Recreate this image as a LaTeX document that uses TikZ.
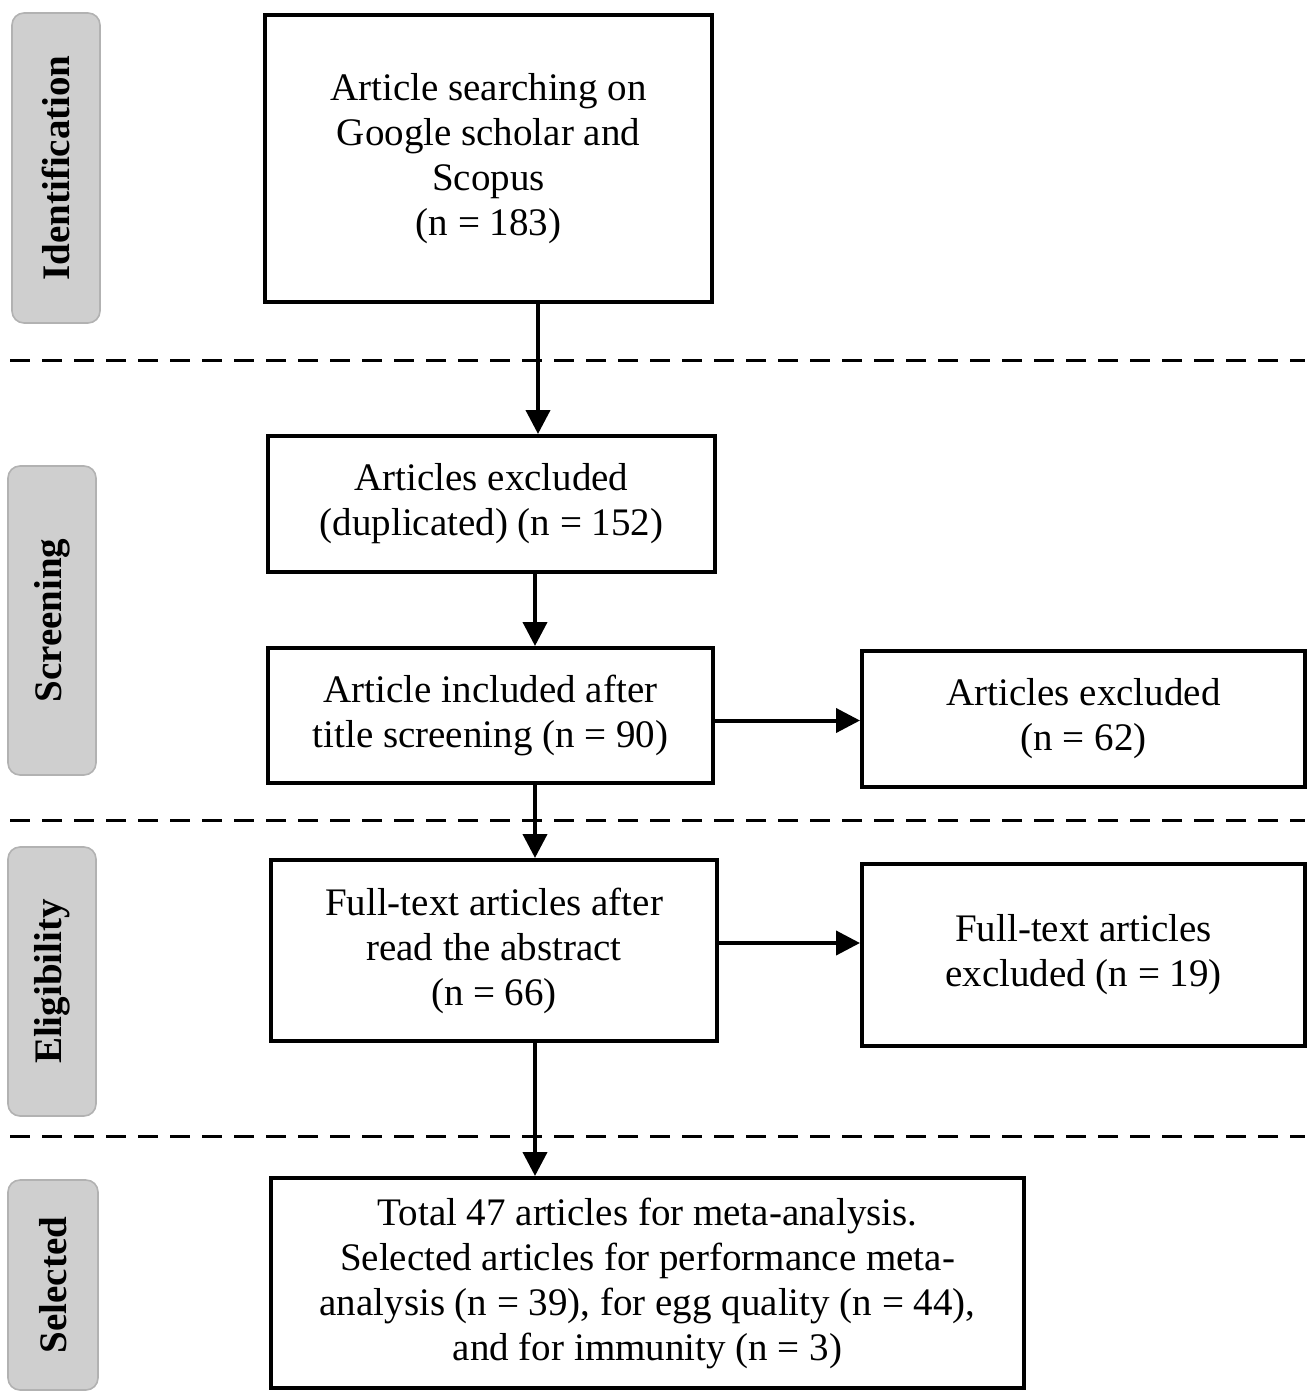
\documentclass[tikz,border=0pt]{standalone}
\usepackage{fontspec}
\setmainfont{Liberation Serif}
\usetikzlibrary{arrows.meta, calc}
\tikzstyle{flowBox}=[draw, line width=2pt, align=center, inner sep=2pt, font=\fontsize{19.5}{22.5}\selectfont]
\tikzstyle{phaseLabel}=[draw=gray!60, fill=gray!38, line width=0.8pt, rounded corners=6pt, rotate=90, minimum height=44pt, font=\fontsize{19.5}{22.5}\selectfont\bfseries]
\tikzstyle{flowArrow}=[-{Triangle[length=12pt,width=12pt]}, line width=2pt]
\tikzstyle{phaseLine}=[line width=1.5pt, dash pattern=on 10pt off 6pt]

\begin{document}
\begin{tikzpicture}[x=0.5pt, y=-0.5pt]
        \useasboundingbox (0,0) rectangle (1315,1397);

        % phase labels on the left
        \node[phaseLabel, minimum width=155pt] (idLabel) at (56,168) {Identification};
        \node[phaseLabel, minimum width=154.5pt] (scLabel) at (52,620.5) {Screening};
        \node[phaseLabel, minimum width=134.5pt] (elLabel) at (52,981.5) {Eligibility};
        \node[phaseLabel, minimum width=105pt, minimum height=45pt] (seLabel) at (53,1285) {Selected};

        % boxes
        \node[flowBox, minimum width=223.5pt, minimum height=143.5pt] (search) at (488.5,158.5) {Article searching on\\Google scholar and\\Scopus\\(n = 183)};
        \node[flowBox, minimum width=223.5pt, minimum height=68pt] (dup) at (491.5,504) {Articles excluded\\(duplicated) (n = 152)};
        \node[flowBox, minimum width=222.5pt, minimum height=67.5pt] (title) at (490.5,715.5) {Article included after\\title screening (n = 90)};
        \node[flowBox, minimum width=221.5pt, minimum height=68pt] (excl) at (1083.5,719) {Articles excluded\\(n = 62)};
        \node[flowBox, minimum width=223pt, minimum height=90.5pt] (full) at (494,950.5) {Full-text articles after\\read the abstract\\(n = 66)};
        \node[flowBox, minimum width=221.5pt, minimum height=91pt] (fullExcl) at (1083.5,955) {Full-text articles\\excluded (n = 19)};
        \node[flowBox, minimum width=376.5pt, minimum height=105pt] (final) at (647.5,1283) {Total 47 articles for meta-analysis.\\Selected articles for performance meta-\\analysis (n = 39), for egg quality (n = 44),\\and for immunity (n = 3)};

        % dashed phase separators
        \draw[phaseLine] (10,360) -- (1305,360);
        \draw[phaseLine] (10,820) -- (1305,820);
        \draw[phaseLine] (10,1136) -- (1305,1136);

        % arrows
        \draw[flowArrow] ([xshift=24.75pt]search.south) -- ([xshift=24.75pt]search.south |- dup.north);
        \draw[flowArrow] ([xshift=21.75pt]dup.south) -- ([xshift=21.75pt]dup.south |- title.north);
        \draw[flowArrow] ([xshift=22.25pt]title.south) -- ([xshift=22.25pt]title.south |- full.north);
        \draw[flowArrow] ([xshift=20.5pt]full.south) -- ([xshift=20.5pt]full.south |- final.north);
        \draw[flowArrow] ([yshift=-2.5pt]title.east) -- ([yshift=-2.5pt]title.east -| excl.west);
        \draw[flowArrow] ([yshift=3.75pt]full.east) -- ([yshift=3.75pt]full.east -| fullExcl.west);

    \end{tikzpicture}
\end{document}
